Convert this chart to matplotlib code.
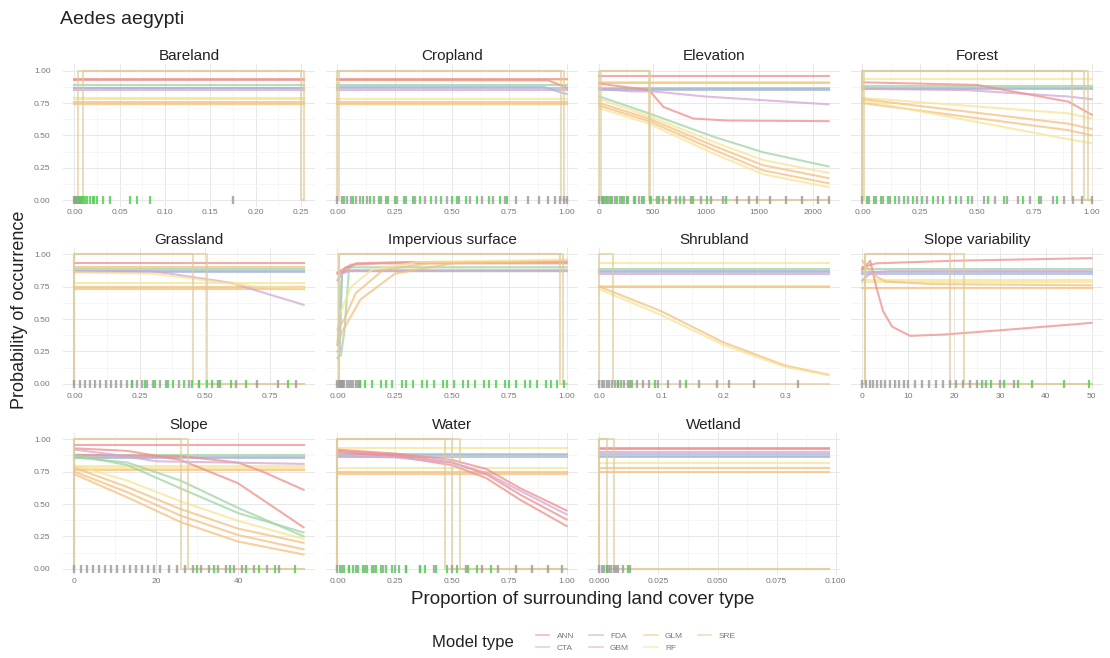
import matplotlib.pyplot as plt
from matplotlib.lines import Line2D
from matplotlib.ticker import FixedLocator

plt.rcParams['font.family'] = ['Liberation Sans', 'DejaVu Sans']

MODELS = ['ANN', 'CTA', 'FDA', 'GBM', 'GLM', 'RF', 'SRE']
MODEL_COLORS = ['#ef8f8c', '#9fd4a3', '#a9b8d6', '#d5a6d6', '#f6bf7c', '#f6e596', '#dccb9c']
COL = dict(zip(MODELS, MODEL_COLORS))

FACETS = ['Bareland', 'Cropland', 'Elevation', 'Forest',
          'Grassland', 'Impervious surface', 'Shrubland', 'Slope variability',
          'Slope', 'Water', 'Wetland']

X_RANGE = {
    'Bareland': (0.0, 0.253),
    'Cropland': (0.0, 1.0),
    'Elevation': (0, 2150),
    'Forest': (0.0, 1.0),
    'Grassland': (0.0, 0.88),
    'Impervious surface': (0.0, 1.0),
    'Shrubland': (0.0, 0.37),
    'Slope variability': (0, 50),
    'Slope': (0, 56),
    'Water': (0.0, 1.0),
    'Wetland': (0.0, 0.097),
}

X_TICKS = {
    'Bareland': [0.0, 0.05, 0.10, 0.15, 0.20, 0.25],
    'Cropland': [0.0, 0.25, 0.5, 0.75, 1.0],
    'Elevation': [0, 500, 1000, 1500, 2000],
    'Forest': [0.0, 0.25, 0.5, 0.75, 1.0],
    'Grassland': [0.0, 0.25, 0.5, 0.75],
    'Impervious surface': [0.0, 0.25, 0.5, 0.75, 1.0],
    'Shrubland': [0.0, 0.1, 0.2, 0.3],
    'Slope variability': [0, 10, 20, 30, 40, 50],
    'Slope': [0, 20, 40],
    'Water': [0.0, 0.25, 0.5, 0.75, 1.0],
    'Wetland': [0.0, 0.025, 0.05, 0.075, 0.1],
}
X_TICK_FMT = {
    'Elevation': '{:.0f}', 'Slope variability': '{:.0f}', 'Slope': '{:.0f}',
    'Shrubland': '{:.1f}', 'Wetland': '{:.3f}',
}
Y_TICKS = [0.0, 0.25, 0.5, 0.75, 1.0]

# response curves that stay level over the whole gradient: (model, probability)
FLAT_LEVELS = {
    'Bareland': [('ANN', 0.935), ('ANN', 0.928), ('CTA', 0.89), ('FDA', 0.87), ('FDA', 0.863),
                 ('GBM', 0.85), ('RF', 0.79), ('RF', 0.778), ('GLM', 0.76), ('GLM', 0.745)],
    'Cropland': [('RF', 0.93), ('ANN', 0.935), ('CTA', 0.89), ('FDA', 0.865),
                 ('GBM', 0.85), ('RF', 0.785), ('GLM', 0.76), ('GLM', 0.745)],
    'Elevation': [('ANN', 0.955), ('RF', 0.912), ('GLM', 0.903), ('CTA', 0.87),
                  ('FDA', 0.86), ('FDA', 0.85)],
    'Forest': [('RF', 0.935), ('CTA', 0.885), ('FDA', 0.87), ('FDA', 0.86)],
    'Grassland': [('ANN', 0.93), ('GLM', 0.905), ('CTA', 0.885), ('FDA', 0.87),
                  ('FDA', 0.86), ('RF', 0.775), ('GLM', 0.745), ('GLM', 0.735)],
    'Impervious surface': [],
    'Shrubland': [('RF', 0.93), ('CTA', 0.885), ('FDA', 0.87), ('FDA', 0.86),
                  ('GBM', 0.85), ('RF', 0.755), ('GLM', 0.745)],
    'Slope variability': [('CTA', 0.89), ('FDA', 0.86), ('FDA', 0.85),
                          ('RF', 0.80), ('RF', 0.785), ('GLM', 0.74)],
    'Slope': [('ANN', 0.955), ('CTA', 0.875), ('FDA', 0.865), ('FDA', 0.855),
              ('RF', 0.79), ('RF', 0.775), ('GLM', 0.76)],
    'Water': [('RF', 0.935), ('CTA', 0.885), ('FDA', 0.875), ('FDA', 0.865),
              ('RF', 0.78), ('GLM', 0.745), ('GLM', 0.735)],
    'Wetland': [('ANN', 0.935), ('ANN', 0.925), ('GBM', 0.905), ('FDA', 0.89), ('CTA', 0.87),
                ('FDA', 0.86), ('RF', 0.82), ('GLM', 0.78), ('GLM', 0.75)],
}

# response curves that change along the gradient: (model, x values, probabilities)
CURVES = {
    'Cropland': [
        ('FDA', [0.0, 0.9, 0.96, 1.0], [0.875, 0.875, 0.84, 0.82]),
        ('ANN', [0.0, 0.92, 1.0], [0.928, 0.925, 0.87]),
    ],
    'Elevation': [
        ('GBM', [0, 300, 500, 1000, 2150], [0.86, 0.84, 0.84, 0.80, 0.74]),
        ('ANN', [0, 465, 600, 880, 1200, 2150], [0.90, 0.85, 0.72, 0.63, 0.615, 0.61]),
        ('CTA', [0, 465, 1070, 1535, 2150], [0.80, 0.67, 0.49, 0.37, 0.26]),
        ('RF', [0, 465, 1070, 1535, 2150], [0.78, 0.65, 0.45, 0.31, 0.21]),
        ('GLM', [0, 465, 1070, 1535, 2150], [0.75, 0.63, 0.42, 0.27, 0.17]),
        ('GLM', [0, 465, 1070, 1535, 2150], [0.73, 0.61, 0.39, 0.23, 0.13]),
        ('RF', [0, 465, 1070, 1535, 2150], [0.71, 0.59, 0.36, 0.20, 0.10]),
    ],
    'Forest': [
        ('GBM', [0.0, 0.45, 0.9, 1.0], [0.86, 0.85, 0.80, 0.78]),
        ('ANN', [0.0, 0.5, 0.9, 1.0], [0.91, 0.89, 0.76, 0.66]),
        ('RF', [0.0, 0.9, 1.0], [0.79, 0.67, 0.63]),
        ('GLM', [0.0, 0.9, 1.0], [0.78, 0.59, 0.55]),
        ('GLM', [0.0, 0.9, 1.0], [0.75, 0.54, 0.50]),
        ('RF', [0.0, 0.9, 1.0], [0.77, 0.47, 0.44]),
    ],
    'Grassland': [
        ('GBM', [0.0, 0.3, 0.6, 0.88], [0.87, 0.87, 0.78, 0.61]),
        ('RF', [0.0, 0.3, 0.7, 0.88], [0.86, 0.85, 0.75, 0.74]),
    ],
    'Impervious surface': [
        ('FDA', [0.0, 0.01, 0.02, 0.04, 1.0], [0.25, 0.25, 0.86, 0.87, 0.87]),
        ('CTA', [0.0, 0.015, 0.03, 0.05, 1.0], [0.20, 0.22, 0.40, 0.88, 0.88]),
        ('CTA', [0.0, 0.02, 0.035, 1.0], [0.30, 0.85, 0.90, 0.90]),
        ('ANN', [0.0, 0.02, 0.06, 0.2, 1.0], [0.86, 0.88, 0.92, 0.93, 0.93]),
        ('ANN', [0.0, 0.03, 0.08, 0.3, 1.0], [0.85, 0.87, 0.93, 0.94, 0.94]),
        ('GBM', [0.0, 0.02, 0.05, 1.0], [0.80, 0.85, 0.87, 0.87]),
        ('GLM', [0.0, 0.02, 0.1, 0.25, 0.5, 1.0], [0.30, 0.40, 0.65, 0.85, 0.93, 0.95]),
        ('GLM', [0.0, 0.03, 0.08, 0.2, 0.4, 1.0], [0.42, 0.50, 0.70, 0.88, 0.93, 0.95]),
        ('RF', [0.0, 0.02, 0.06, 0.15, 0.35, 1.0], [0.50, 0.58, 0.75, 0.88, 0.94, 0.96]),
    ],
    'Shrubland': [
        ('GLM', [0.0, 0.1, 0.2, 0.3, 0.37], [0.75, 0.56, 0.32, 0.14, 0.07]),
        ('RF', [0.0, 0.1, 0.2, 0.3, 0.37], [0.73, 0.53, 0.30, 0.13, 0.065]),
    ],
    'Slope variability': [
        ('ANN', [0, 1.7, 3.0, 4.5, 6.5, 10.4, 17.8, 32.6, 50],
         [0.88, 0.95, 0.75, 0.56, 0.44, 0.37, 0.38, 0.42, 0.47]),
        ('ANN', [0, 3, 20, 50], [0.90, 0.93, 0.95, 0.97]),
        ('GLM', [0, 2, 5, 15, 50], [0.95, 0.85, 0.79, 0.77, 0.76]),
        ('GBM', [0, 2, 6, 50], [0.80, 0.86, 0.87, 0.87]),
    ],
    'Slope': [
        ('ANN', [0, 13, 26, 40, 56], [0.93, 0.91, 0.84, 0.66, 0.32]),
        ('ANN', [0, 26, 40, 46, 56], [0.88, 0.87, 0.82, 0.75, 0.61]),
        ('CTA', [0, 13, 26, 40, 56], [0.88, 0.80, 0.62, 0.43, 0.28]),
        ('CTA', [0, 13, 26, 40, 56], [0.86, 0.82, 0.68, 0.47, 0.25]),
        ('RF', [0, 13, 26, 40, 56], [0.80, 0.68, 0.52, 0.37, 0.23]),
        ('GLM', [0, 13, 26, 40, 56], [0.78, 0.63, 0.46, 0.31, 0.20]),
        ('GLM', [0, 13, 26, 40, 56], [0.75, 0.59, 0.41, 0.26, 0.15]),
        ('GLM', [0, 13, 26, 40, 56], [0.73, 0.55, 0.36, 0.21, 0.11]),
        ('GBM', [0, 10, 20, 56], [0.92, 0.88, 0.83, 0.81]),
    ],
    'Water': [
        ('ANN', [0.0, 0.25, 0.5, 0.65, 0.8, 1.0], [0.92, 0.89, 0.84, 0.77, 0.62, 0.45]),
        ('ANN', [0.0, 0.25, 0.5, 0.65, 0.8, 1.0], [0.91, 0.88, 0.82, 0.73, 0.57, 0.38]),
        ('ANN', [0.0, 0.25, 0.5, 0.65, 0.8, 1.0], [0.90, 0.87, 0.80, 0.70, 0.53, 0.33]),
        ('GBM', [0.0, 0.25, 0.5, 0.65, 0.8, 1.0], [0.87, 0.86, 0.82, 0.74, 0.60, 0.42]),
    ],
}

# surface range envelope limits of each SRE run (inside = 1, outside = 0)
SRE_BOUNDS = {
    'Bareland': [(0.004, 0.253), (0.009, 0.25)],
    'Cropland': [(0.0, 0.975), (0.005, 0.99)],
    'Elevation': [(0, 465), (10, 470)],
    'Forest': [(0.0, 0.915), (0.0, 0.965), (0.005, 0.985)],
    'Grassland': [(0.0, 0.457), (0.0, 0.51)],
    'Impervious surface': [(0.005, 0.97), (0.005, 0.985)],
    'Shrubland': [(0.0, 0.022)],
    'Slope variability': [(0.5, 19.2), (0.5, 22.2)],
    'Slope': [(0, 26.0), (0, 27.7)],
    'Water': [(0.0, 0.47), (0.0, 0.50), (0.0, 0.535)],
    'Wetland': [(0.0, 0.0034), (0.0, 0.006)],
}

# observed sites along each gradient
RUG_ABSENT = {
    'Bareland': [0.0, 0.001, 0.002, 0.003, 0.004, 0.005, 0.006, 0.007, 0.008, 0.175],
    'Cropland': [0.0, 0.02, 0.04, 0.06, 0.08, 0.10, 0.13, 0.16, 0.19, 0.22, 0.26, 0.30, 0.34,
                 0.38, 0.43, 0.48, 0.53, 0.58, 0.63, 0.68, 0.73, 0.78, 0.83, 0.88, 0.92, 0.95,
                 0.97, 0.99, 1.0],
    'Elevation': [0, 20, 40, 60, 90, 120, 150, 190, 230, 270, 320, 370, 420, 480, 540, 600,
                  660, 720, 790, 860, 950, 1050, 1160, 1290, 1400, 1480, 1600, 1750, 1900,
                  2050, 2150],
    'Forest': [0.0, 0.03, 0.06, 0.09, 0.12, 0.16, 0.20, 0.24, 0.28, 0.33, 0.38, 0.43, 0.48,
               0.53, 0.58, 0.63, 0.68, 0.73, 0.78, 0.83, 0.88, 0.92, 0.96, 1.0],
    'Grassland': [0.0, 0.02, 0.04, 0.06, 0.08, 0.10, 0.12, 0.14, 0.16, 0.18, 0.20, 0.22, 0.24,
                  0.26, 0.28, 0.30, 0.33, 0.36, 0.40, 0.44, 0.48, 0.55, 0.62, 0.70, 0.78, 0.85],
    'Impervious surface': [0.0, 0.005, 0.01, 0.015, 0.02, 0.025, 0.03, 0.04, 0.05, 0.06,
                           0.07, 0.08, 0.09, 0.10],
    'Shrubland': [0.0, 0.004, 0.008, 0.012, 0.016, 0.020, 0.025, 0.030, 0.035, 0.040, 0.046,
                  0.052, 0.060, 0.070, 0.080, 0.095, 0.11, 0.13, 0.16, 0.19, 0.21, 0.25, 0.32],
    'Slope variability': [0, 0.8, 1.6, 2.4, 3.2, 4, 5, 6, 7, 8, 9, 10, 11.5, 13, 14.5, 16,
                          17.5, 19, 20.5, 22, 23.5, 25, 27, 30, 33],
    'Slope': [0, 1.5, 3, 4.5, 6, 7.5, 9, 10.5, 12, 13.5, 15, 16.5, 18, 19.5, 21, 23, 25, 27,
              29, 31, 33, 35, 37, 39, 41, 44, 47, 50],
    'Water': [0.0, 0.02, 0.05, 0.08, 0.12, 0.16, 0.2, 0.25, 0.3, 0.36, 0.42, 0.5, 0.56, 0.63,
              0.7, 0.78, 0.85, 0.92, 0.98],
    'Wetland': [0.0, 0.001, 0.002, 0.003, 0.004, 0.005, 0.006, 0.007, 0.008, 0.010, 0.013],
}
RUG_PRESENT = {
    'Bareland': [0.003, 0.006, 0.009, 0.012, 0.014, 0.017, 0.020, 0.022, 0.025, 0.031, 0.039,
                 0.061, 0.069, 0.083],
    'Cropland': [0.03, 0.07, 0.11, 0.14, 0.18, 0.21, 0.25, 0.29, 0.33, 0.36, 0.41, 0.45, 0.50,
                 0.52, 0.56, 0.61, 0.66, 0.71, 0.74],
    'Elevation': [30, 70, 110, 160, 210, 260, 330, 400, 470, 560, 650, 760, 880, 1010, 1190],
    'Forest': [0.02, 0.05, 0.08, 0.11, 0.14, 0.18, 0.22, 0.26, 0.31, 0.35, 0.41, 0.46, 0.55,
               0.62, 0.70, 0.77, 0.85],
    'Grassland': [0.22, 0.27, 0.31, 0.35, 0.38, 0.42, 0.45, 0.48, 0.51, 0.53, 0.56, 0.60,
                  0.66, 0.82],
    'Impervious surface': [0.10, 0.12, 0.15, 0.19, 0.21, 0.24, 0.28, 0.30, 0.33, 0.37, 0.39,
                           0.42, 0.46, 0.48, 0.51, 0.55, 0.57, 0.60, 0.64, 0.66, 0.69, 0.73,
                           0.75, 0.78, 0.82, 0.84, 0.87, 0.91, 0.93, 0.96, 0.99],
    'Shrubland': [0.03, 0.05, 0.09, 0.14],
    'Slope variability': [26, 28, 31, 34, 37, 44, 49.5],
    'Slope': [30, 34, 38, 42, 45, 49, 54],
    'Water': [0.01, 0.03, 0.05, 0.07, 0.09, 0.11, 0.13, 0.15, 0.17, 0.19, 0.21, 0.24, 0.27,
              0.30, 0.36, 0.38, 0.43, 0.48, 0.52, 0.57, 0.61, 0.67],
    'Wetland': [0.003, 0.012],
}

# panel grid in pixels
FIG_W, FIG_H = 1110, 658
COL_LEFT = [63, 326, 588, 851]
ROW_TOP = [64.2, 247.8, 432.8]
PANEL_W, PANEL_H = 252, 142.4

LW = 1.5
ALPHA = 0.75

fig = plt.figure(figsize=(FIG_W / 100, FIG_H / 100), dpi=100)

for i, name in enumerate(FACETS):
    r, c = divmod(i, 4)
    ax = fig.add_axes([COL_LEFT[c] / FIG_W, 1 - (ROW_TOP[r] + PANEL_H) / FIG_H,
                       PANEL_W / FIG_W, PANEL_H / FIG_H])
    x0, x1 = X_RANGE[name]

    for model, lvl in FLAT_LEVELS[name]:
        ax.plot([x0, x1], [lvl, lvl], color=COL[model], lw=LW, alpha=ALPHA)
    for model, xs, ys in CURVES.get(name, []):
        ax.plot(xs, ys, color=COL[model], lw=LW, alpha=ALPHA)
    for lo, hi in SRE_BOUNDS[name]:
        ax.plot([x0, lo, lo, hi, hi, x1], [0, 0, 1, 1, 0, 0],
                color=COL['SRE'], lw=LW, alpha=0.65)

    grey = RUG_ABSENT[name]
    green = RUG_PRESENT[name]
    ax.plot(grey, [0] * len(grey), ls='none', marker='|', ms=6, mew=1.7,
            color='#9a9a9a', alpha=0.8)
    ax.plot(green, [0] * len(green), ls='none', marker='|', ms=6, mew=1.6,
            color='#52d152', alpha=0.85)

    span = x1 - x0
    ax.set_xlim(x0 - 0.05 * span, x1 + 0.05 * span)
    ax.set_ylim(-0.05, 1.05)

    xt = X_TICKS[name]
    fmt = X_TICK_FMT.get(name, '{:.2f}')
    ax.set_xticks(xt)
    ax.set_xticklabels([fmt.format(v) for v in xt])
    ax.xaxis.set_minor_locator(FixedLocator([(a + b) / 2 for a, b in zip(xt[:-1], xt[1:])]))
    ax.set_yticks(Y_TICKS)
    ax.yaxis.set_minor_locator(FixedLocator([0.125, 0.375, 0.625, 0.875]))
    if c == 0:
        ax.set_yticklabels(['{:.2f}'.format(v) for v in Y_TICKS])
    else:
        ax.set_yticklabels([])

    ax.grid(which='major', color='#e8e8e8', lw=0.7)
    ax.grid(which='minor', color='#f3f3f3', lw=0.5)
    ax.set_axisbelow(True)
    for s in ax.spines.values():
        s.set_visible(False)
    ax.tick_params(which='both', length=0, labelsize=6, labelcolor='#777777')
    ax.tick_params(axis='x', pad=2)
    ax.tick_params(axis='y', pad=9)
    ax.set_title(name, fontsize=11, color='#222222', pad=3)

fig.text(60 / FIG_W, 1 - 19 / FIG_H, 'Aedes aegypti', fontsize=14, color='#222222',
         ha='left', va='center')
fig.text(20 / FIG_W, 1 - 310 / FIG_H, 'Probability of occurrence', fontsize=13,
         rotation=90, ha='center', va='center', color='#222222')
fig.text(583 / FIG_W, 1 - 600 / FIG_H, 'Proportion of surrounding land cover type',
         fontsize=13.5, ha='center', va='center', color='#222222')
fig.text(473 / FIG_W, 1 - 643 / FIG_H, 'Model type', fontsize=12, ha='center',
         va='center', color='#222222')

handles = [Line2D([], [], color=COL[m], lw=1.2, alpha=0.6) for m in MODELS]
fig.legend(handles, MODELS, ncol=4, loc='center', bbox_to_anchor=(636 / FIG_W, 1 - 642 / FIG_H),
           frameon=False, fontsize=6, handlelength=1.6, handletextpad=0.9,
           columnspacing=1.8, labelspacing=0.5, labelcolor='#777777')

fig.savefig('out.png', dpi=100, facecolor='white')
